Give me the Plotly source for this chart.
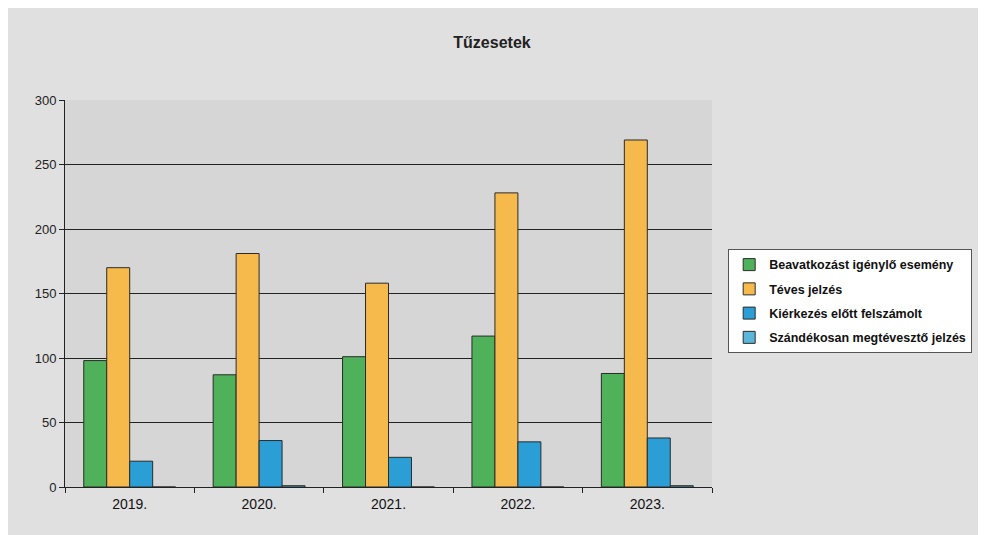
import plotly.graph_objects as go

years = ["2019.", "2020.", "2021.", "2022.", "2023."]
beavatkozas = [98, 87, 101, 117, 88]
teves = [170, 181, 158, 228, 269]
kierkezes = [20, 36, 23, 35, 38]
szandekos = [0, 1, 0, 0, 1]

series_names = [
    "Beavatkozást igénylő esemény",
    "Téves jelzés",
    "Kiérkezés előtt felszámolt",
    "Szándékosan megtévesztő jelzés",
]
series_values = [beavatkozas, teves, kierkezes, szandekos]
colors = ["#4fb159", "#f6b94c", "#2b9ed6", "#5bb6da"]

fig = go.Figure()
for i, (name, vals, col) in enumerate(zip(series_names, series_values, colors)):
    fig.add_trace(go.Bar(
        x=years, y=vals, name="<b>" + name + "</b>", legendgroup=f"g{i}",
        marker=dict(color=col, line=dict(color="#2b2b2b", width=1)),
    ))

fig.update_layout(
    width=978, height=527,
    barmode="group", bargap=0.29, bargroupgap=0,
    paper_bgcolor="#e0e0e0",
    plot_bgcolor="#d6d6d6",
    margin=dict(l=57, r=274, t=92, b=48),
    font=dict(family="Liberation Sans, Arial, sans-serif", color="#111"),
    title=dict(text="<b>Tűzesetek</b>", x=(492 - 8) / 978, xref="container", xanchor="center",
               y=1 - 34 / 527, yanchor="middle", font=dict(size=16, color="#222")),
    legend=dict(
        x=1.025, xanchor="left", y=0.615, yanchor="top",
        bgcolor="#ffffff", bordercolor="#555", borderwidth=1,
        font=dict(size=12.5, color="#111", family="Liberation Sans, Arial, sans-serif"),
        traceorder="grouped", tracegroupgap=5,
    ),
    xaxis=dict(
        showline=True, linecolor="#222", linewidth=1,
        ticks="outside", tickson="boundaries", ticklen=5, tickcolor="#222",
        tickfont=dict(size=14, color="#111"), showgrid=False, ticklabelstandoff=4,
    ),
    yaxis=dict(
        range=[0, 300], dtick=50, showgrid=True, gridcolor="#222", gridwidth=1,
        showline=True, linecolor="#222", ticks="outside", ticklen=5, tickcolor="#222",
        tickfont=dict(size=13, color="#222"), zeroline=False,
    ),
)

fig.write_html("out.html")
